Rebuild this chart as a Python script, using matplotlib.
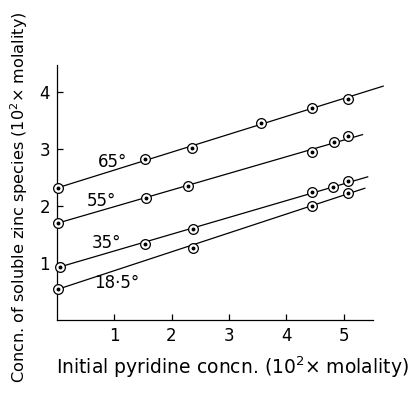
import numpy as np
import matplotlib
matplotlib.use("Agg")
import matplotlib.pyplot as plt

# measured points, (10^2 x molality)
x_65 = [0.02, 1.54, 2.36, 3.56, 4.45, 5.08]
y_65 = [2.32, 2.82, 3.02, 3.45, 3.72, 3.87]
x_55 = [0.02, 1.55, 2.29, 4.45, 4.84, 5.08]
y_55 = [1.70, 2.14, 2.35, 2.95, 3.12, 3.22]
x_35 = [0.05, 1.54, 2.37, 4.45, 4.82, 5.08]
y_35 = [0.93, 1.33, 1.60, 2.24, 2.34, 2.44]
x_18 = [0.02, 2.37, 4.45, 5.08]
y_18 = [0.54, 1.26, 2.00, 2.22]

# straight lines through each set (end points)
fit_x = {"65": [0.02, 5.69], "55": [0.02, 5.33], "35": [0.05, 5.42], "18": [0.02, 5.37]}
fit_y = {"65": [2.32, 4.10], "55": [1.70, 3.25], "35": [0.93, 2.51], "18": [0.54, 2.31]}

labels = ["65°", "55°", "35°", "18·5°"]
label_pos = [(0.98, 2.77), (0.78, 2.09), (0.87, 1.35), (1.04, 0.65)]

fig = plt.figure(figsize=(4.12, 3.99), dpi=100)
ax = fig.add_axes([0.138, 0.198, 0.767, 0.639])

series = [("65", x_65, y_65), ("55", x_55, y_55), ("35", x_35, y_35), ("18", x_18, y_18)]
for key, xs, ys in series:
    ax.plot(fit_x[key], fit_y[key], color="black", lw=0.9, clip_on=False, zorder=2)
    ax.plot(xs, ys, "o", ms=7, mfc="white", mec="black", mew=0.9, clip_on=False, zorder=3)
    ax.plot(xs, ys, "o", ms=1.8, color="black", clip_on=False, zorder=4)

for lab, (lx, ly) in zip(labels, label_pos):
    ax.text(lx, ly, lab, fontsize=12, ha="center", va="center")

ax.set_xlim(0, 5.51)
ax.set_ylim(0, 4.47)
ax.set_xticks([1, 2, 3, 4, 5])
ax.set_yticks([1, 2, 3, 4])
ax.tick_params(direction="in", length=4, width=0.9, labelsize=12, pad=5)
ax.spines["top"].set_visible(False)
ax.spines["right"].set_visible(False)
ax.spines["left"].set_linewidth(0.9)
ax.spines["bottom"].set_linewidth(0.9)

ax.set_xlabel("Initial pyridine concn. (10$^2$× molality)", fontsize=13.5)
ax.set_ylabel("Concn. of soluble zinc species (10$^2$× molality)", fontsize=11.6)
ax.xaxis.set_label_coords(0.555, -0.135)
ax.yaxis.set_label_coords(-0.085, 0.48)

fig.savefig("out.png", dpi=100)
